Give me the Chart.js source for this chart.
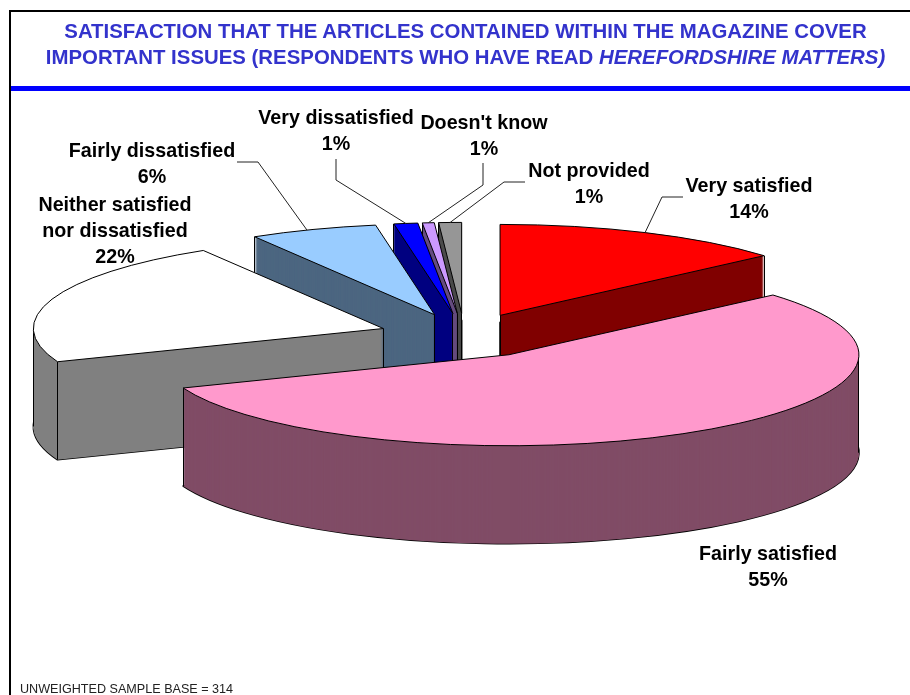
<!DOCTYPE html>
<html>
<head>
<meta charset="utf-8">
<title>Herefordshire Matters</title>
<script src="https://cdn.jsdelivr.net/npm/chart.js@4/dist/chart.umd.min.js"></script>
<style>
html, body { margin: 0; padding: 0; background: #fff; overflow: hidden; }
#page { position: relative; width: 910px; height: 695px; font-family: "Liberation Sans", Arial, sans-serif; }
#frame { position: absolute; left: 9px; top: 10px; right: 0; bottom: 0; border-left: 2px solid #000; border-top: 2px solid #000; }
#rule { position: absolute; left: 11px; right: 0; top: 86px; height: 5px; background: #0000ff; }
#title { position: absolute; left: 16px; width: 899px; top: 18px; text-align: center; color: #3333cc; font-weight: bold; font-size: 20.4px; line-height: 26px; white-space: nowrap; }
#base { position: absolute; left: 20px; top: 682px; font-size: 12.6px; line-height: 14px; color: #222; white-space: nowrap; }
canvas { position: absolute; left: 0; top: 0; }
</style>
</head>
<body>
<div id="page">
  <canvas id="pie" width="910" height="695"></canvas>
  <div id="frame"></div>
  <div id="rule"></div>
  <div id="title">SATISFACTION THAT THE ARTICLES CONTAINED WITHIN THE MAGAZINE COVER<br>IMPORTANT ISSUES (RESPONDENTS WHO HAVE READ <i>HEREFORDSHIRE MATTERS)</i></div>
  <div id="base">UNWEIGHTED SAMPLE BASE = 314</div>
</div>
<script>
// values, the percent labels are the printed ones
const categories = ["Very satisfied", "Fairly satisfied", "Neither satisfied nor dissatisfied", "Fairly dissatisfied", "Very dissatisfied", "Doesn't know", "Not provided"];
const values = [13.6, 55.45, 22.35, 5.9, 1.1, 0.55, 1.05];
const percentLabels = ["14%", "55%", "22%", "6%", "1%", "1%", "1%"];
const topColours = ["#ff0000", "#ff99cc", "#ffffff", "#99ccff", "#0000ff", "#cc99ff", "#969696"];
const wallColours = ["#800000", "#804c66", "#808080", "#4c6680", "#000080", "#664c80", "#4b4b4b"];

// label text lines and where each one is centred
const labelLines = [["Very satisfied"], ["Fairly satisfied"], ["Neither satisfied", "nor dissatisfied"], ["Fairly dissatisfied"], ["Very dissatisfied"], ["Doesn't know"], ["Not provided"]];
const labelX = [749, 768, 115, 152, 336, 484, 589];
const labelY = [187, 555, 206, 152, 119, 124, 172];
// elbow points of the leader lines, the last point is found from the slice
const leaders = [[[683, 197], [662, 197]], null, null, [[237, 162], [258, 162]], [[336, 159], [336, 180]], [[483, 163], [483, 185]], [[525, 182], [504, 182]]];
// how far round the slice each leader lands
const leaderAt = [0.5, 0, 0, 0.45, 0.5, 0.5, 0.5];

// tilted view of the pie
const view = { cx: 464.5, cy: 335.7, rx: 350, ry: 91, explode: 0.245, depth: 98 };

function apexOf(arc) {
    const mid = (arc.startAngle + arc.endAngle) / 2;
    return {
        x: view.cx + view.rx * view.explode * Math.cos(mid),
        y: view.cy + view.ry * view.explode * Math.sin(mid)
    };
}

function rimPoint(arc, angle) {
    const a = apexOf(arc);
    return { x: a.x + view.rx * Math.cos(angle), y: a.y + view.ry * Math.sin(angle) };
}

// path is built squashed and stroked flat, so the line width stays even
function tracePath(ctx, arc, dy) {
    const a = apexOf(arc);
    ctx.save();
    ctx.setTransform(view.rx / arc.outerRadius, 0, 0, view.ry / arc.outerRadius, a.x, a.y + dy);
    ctx.beginPath();
    ctx.moveTo(0, 0);
    ctx.arc(0, 0, arc.outerRadius, arc.startAngle, arc.endAngle);
    ctx.closePath();
    ctx.restore();
}

function strokeOutline(ctx, arc, dy, width) {
    tracePath(ctx, arc, dy);
    ctx.lineWidth = width;
    ctx.lineJoin = "round";
    ctx.strokeStyle = "#000";
    ctx.stroke();
}

// the arc element draws itself, moved onto the apex and squashed
function fillArc(ctx, arc, colour, dy) {
    const sx = view.rx / arc.outerRadius;
    const sy = view.ry / arc.outerRadius;
    const a = apexOf(arc);
    arc.options = { backgroundColor: colour, borderColor: colour, borderWidth: 0, borderRadius: 0, borderAlign: "center", circular: true, offset: 0, spacing: 0 };
    ctx.save();
    ctx.setTransform(sx, 0, 0, sy, a.x - sx * arc.x, a.y + dy - sy * arc.y);
    arc.draw(ctx);
    ctx.restore();
}

// wall edges, only where the point is not sitting behind the slice's own top
function drawVertical(ctx, arc, p) {
    tracePath(ctx, arc, 0);
    if (ctx.isPointInPath(p.x, p.y + 3)) return;
    const x = Math.floor(p.x) + 0.5;
    ctx.beginPath();
    ctx.moveTo(x, p.y);
    ctx.lineTo(x, p.y + view.depth);
    ctx.lineWidth = 1;
    ctx.strokeStyle = "#000";
    ctx.stroke();
}

function edgePoints(arc) {
    const points = [apexOf(arc), rimPoint(arc, arc.startAngle), rimPoint(arc, arc.endAngle)];
    // left and right extremes of the rim are wall edges too
    [-Math.PI, 0, Math.PI].forEach(angle => {
        if (angle > arc.startAngle && angle < arc.endAngle) points.push(rimPoint(arc, angle));
    });
    return points;
}

function drawSlice(ctx, arc, i) {
    strokeOutline(ctx, arc, view.depth, 1.6);
    for (let dy = view.depth; dy > 0; dy--) fillArc(ctx, arc, wallColours[i], dy);
    edgePoints(arc).forEach(p => drawVertical(ctx, arc, p));
    fillArc(ctx, arc, topColours[i], 0);
    strokeOutline(ctx, arc, 0, 1);
}

function drawLabels(ctx, arcs) {
    ctx.font = "bold 19.7px 'Liberation Sans', Arial, sans-serif";
    ctx.textAlign = "center";
    ctx.textBaseline = "middle";
    ctx.fillStyle = "#000";
    arcs.forEach((arc, i) => {
        labelLines[i].concat(percentLabels[i]).forEach((line, n) => {
            ctx.fillText(line, labelX[i], labelY[i] + n * 26);
        });
        if (!leaders[i]) return;
        const end = rimPoint(arc, arc.startAngle + (arc.endAngle - arc.startAngle) * leaderAt[i]);
        ctx.beginPath();
        leaders[i].forEach((p, n) => n ? ctx.lineTo(p[0], p[1]) : ctx.moveTo(p[0], p[1]));
        ctx.lineTo(end.x, end.y);
        ctx.lineWidth = 1;
        ctx.strokeStyle = "#222";
        ctx.stroke();
    });
}

const pie3d = {
    id: "pie3d",
    beforeDatasetsDraw(chart) {
        const ctx = chart.ctx;
        const arcs = chart.getDatasetMeta(0).data;
        // back slices first, the front one covers them
        const order = arcs.map((arc, i) => i).sort((a, b) =>
            Math.sin((arcs[a].startAngle + arcs[a].endAngle) / 2) - Math.sin((arcs[b].startAngle + arcs[b].endAngle) / 2));
        order.forEach(i => drawSlice(ctx, arcs[i], i));
        drawLabels(ctx, arcs);
        return false;
    }
};

new Chart(document.getElementById("pie"), {
    type: "pie",
    data: {
        labels: categories,
        datasets: [{ data: values, backgroundColor: topColours, borderWidth: 0 }]
    },
    options: {
        responsive: false,
        animation: false,
        plugins: { legend: { display: false }, tooltip: { enabled: false } }
    },
    plugins: [pie3d]
});
</script>
</body>
</html>
